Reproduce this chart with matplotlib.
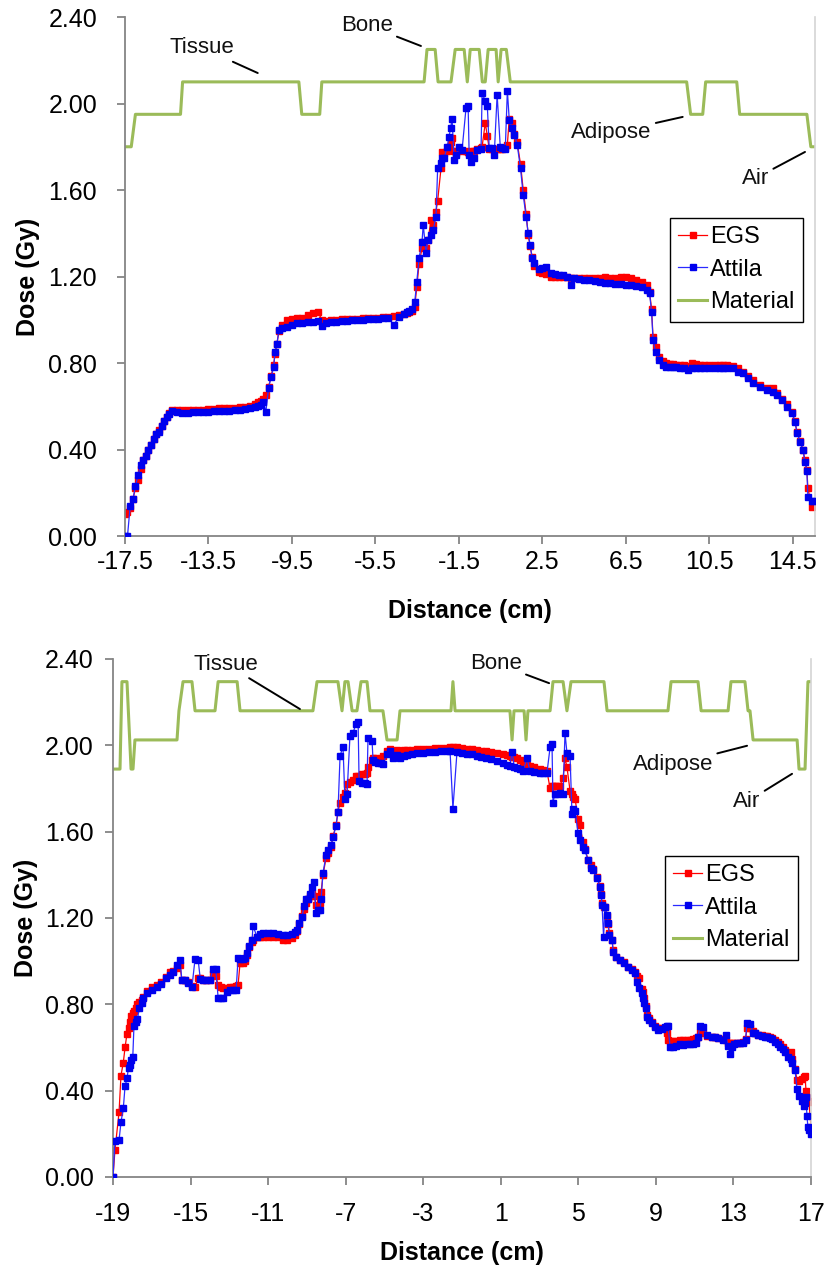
import matplotlib
matplotlib.use("Agg")
import matplotlib.pyplot as plt

plt.rcParams["font.family"] = ["Liberation Sans", "DejaVu Sans"]
plt.rcParams["axes.unicode_minus"] = False

# ------------------------------------------------------------
# Data : top panel (distance in cm, dose in Gy)
# ------------------------------------------------------------

top_x = [
    -17.50, -17.38, -17.25, -17.12, -17.00, -16.88, -16.75, -16.62, -16.50, -16.38,
    -16.25, -16.12, -16.00, -15.88, -15.75, -15.62, -15.50, -15.38, -15.25,
    -15.00, -14.75, -14.50, -14.25, -14.00, -13.75, -13.50, -13.25, -13.00, -12.75,
    -12.50, -12.25, -12.00, -11.75, -11.50, -11.25,
    -11.12, -11.00, -10.88, -10.75, -10.62, -10.50, -10.38, -10.31, -10.22, -10.12, -10.00,
    -9.75, -9.50, -9.25, -9.00, -8.75, -8.50, -8.25, -8.07, -7.88, -7.62, -7.38, -7.12,
    -6.88, -6.62, -6.38, -6.12, -5.88, -5.62, -5.38, -5.12, -4.88, -4.62, -4.38, -4.12,
    -4.00, -3.88, -3.75, -3.62,
    -3.52, -3.41, -3.27, -3.21, -3.08, -2.98, -2.84, -2.74, -2.60, -2.52, -2.36, -2.30,
    -2.21, -2.06, -1.98, -1.90, -1.83, -1.73, -1.64, -1.49, -1.35, -1.16, -1.06, -1.01,
    -0.91, -0.77, -0.62, -0.44, -0.39, -0.24, -0.14, -0.05, 0.10, 0.19, 0.33, 0.48,
    0.58, 0.72, 0.82, 0.91, 1.05, 1.15, 1.29, 1.45, 1.58, 1.72, 1.82, 1.91, 2.01, 2.11,
    2.35, 2.50, 2.69, 2.93, 3.12, 3.31, 3.50, 3.70, 3.89, 4.00, 4.25, 4.50, 4.75, 5.00,
    5.25, 5.50, 5.75, 6.00, 6.25, 6.50, 6.75, 7.00, 7.25, 7.50, 7.63,
    7.73, 7.80, 7.93, 8.10, 8.26, 8.44, 8.60, 8.75, 8.92, 9.10, 9.30, 9.46, 9.65, 9.85,
    10.03, 10.25, 10.50, 10.75, 11.00, 11.14, 11.35, 11.62,
    11.86, 12.10, 12.34, 12.58, 12.92, 13.25, 13.54, 13.73, 13.97, 14.21, 14.45, 14.60,
    14.70, 14.84, 14.98, 15.08, 15.17, 15.22, 15.41, 15.46,
]

top_egs = [
    0.10, 0.11, 0.13, 0.17, 0.22, 0.26, 0.31, 0.35, 0.37, 0.40,
    0.42, 0.45, 0.47, 0.49, 0.51, 0.53, 0.55, 0.57, 0.585,
    0.585, 0.585, 0.582, 0.585, 0.583, 0.585, 0.587, 0.588, 0.590, 0.590,
    0.592, 0.594, 0.596, 0.598, 0.600, 0.610,
    0.620, 0.625, 0.635, 0.650, 0.690, 0.740, 0.790, 0.840, 0.890, 0.950, 0.975,
    1.000, 1.005, 1.010, 1.010, 1.020, 1.030, 1.035, 1.000, 0.995, 0.998, 1.000, 1.005,
    1.002, 1.005, 1.004, 1.006, 1.007, 1.008, 1.010, 1.012, 1.015, 1.018, 1.020, 1.025,
    1.030, 1.035, 1.040, 1.060,
    1.150, 1.260, 1.330, 1.360, 1.330, 1.370, 1.460, 1.440, 1.500, 1.550, 1.700, 1.775,
    1.770, 1.780, 1.800, 1.820, 1.840, 1.780, 1.770, 1.790, 1.780, 1.780, 1.775, 1.770,
    1.780, 1.780, 1.790, 1.795, 1.800, 1.910, 1.850, 1.790, 1.790, 1.790, 1.790, 1.790,
    1.790, 1.795, 1.810, 1.930, 1.910, 1.860, 1.820, 1.720, 1.600, 1.490, 1.390, 1.340,
    1.290, 1.250,
    1.220, 1.215, 1.210, 1.200, 1.200, 1.200, 1.200, 1.198, 1.195, 1.195, 1.195, 1.195,
    1.193, 1.195, 1.195, 1.198, 1.195, 1.195, 1.196, 1.198, 1.195, 1.185, 1.175, 1.160,
    1.130,
    1.050, 0.920, 0.874, 0.830, 0.810, 0.800, 0.795, 0.795, 0.792, 0.790, 0.790, 0.788,
    0.800, 0.795, 0.790, 0.790, 0.792, 0.790, 0.792, 0.791, 0.790, 0.785,
    0.775, 0.760, 0.740, 0.720, 0.700, 0.685, 0.684, 0.660, 0.635, 0.610, 0.575, 0.530,
    0.480, 0.440, 0.400, 0.350, 0.305, 0.220, 0.134, 0.150,
]

top_attila = [
    0.00, 0.00, 0.14, 0.17, 0.23, 0.28, 0.33, 0.35, 0.37, 0.40,
    0.42, 0.45, 0.47, 0.48, 0.51, 0.53, 0.55, 0.565, 0.58,
    0.572, 0.570, 0.570, 0.572, 0.572, 0.573, 0.575, 0.576, 0.578, 0.580,
    0.580, 0.582, 0.584, 0.586, 0.590, 0.595,
    0.600, 0.605, 0.620, 0.575, 0.685, 0.735, 0.780, 0.850, 0.890, 0.952, 0.960,
    0.965, 0.975, 0.985, 0.985, 0.990, 0.990, 0.992, 0.970, 0.985, 0.988, 0.990, 0.992,
    0.995, 0.997, 0.998, 1.000, 1.002, 1.004, 1.005, 1.008, 1.010, 0.975, 1.015, 1.025,
    1.035, 1.040, 1.050, 1.080,
    1.175, 1.285, 1.360, 1.440, 1.310, 1.370, 1.390, 1.415, 1.475, 1.700, 1.725, 1.750,
    1.750, 1.800, 1.845, 1.885, 1.930, 1.740, 1.760, 1.800, 1.785, 1.980, 1.990, 1.760,
    1.730, 1.750, 1.785, 1.790, 2.050, 2.010, 1.990, 1.795, 1.795, 1.760, 2.040, 1.800,
    1.795, 1.790, 2.060, 1.925, 1.885, 1.855, 1.810, 1.700, 1.577, 1.475, 1.400, 1.345,
    1.285, 1.262,
    1.235, 1.240, 1.245, 1.215, 1.210, 1.207, 1.205, 1.200, 1.160, 1.193, 1.190, 1.186,
    1.183, 1.180, 1.175, 1.172, 1.170, 1.166, 1.165, 1.163, 1.160, 1.155, 1.150, 1.138,
    1.124,
    1.036, 0.906, 0.850, 0.814, 0.791, 0.781, 0.780, 0.781, 0.780, 0.779, 0.776, 0.768,
    0.778, 0.777, 0.777, 0.777, 0.777, 0.778, 0.777, 0.778, 0.777, 0.777,
    0.758, 0.754, 0.730, 0.707, 0.689, 0.675, 0.665, 0.652, 0.629, 0.597, 0.569, 0.527,
    0.476, 0.435, 0.398, 0.342, 0.300, 0.180, 0.162, 0.162,
]

# material profile (air 1.80, adipose 1.95, tissue 2.10, bone 2.25)
top_mat_x = [
    -17.50, -17.20, -17.00, -14.84, -14.74, -9.17, -9.03, -8.17, -8.07, -3.17, -3.03,
    -2.64, -2.50, -1.88, -1.68, -1.25, -1.10, -0.96, -0.53, -0.38, -0.24, -0.10, 0.28,
    0.38, 0.52, 0.77, 0.96, 9.41, 9.60, 10.18, 10.32, 11.81, 11.95, 15.17, 15.36, 15.56,
]
top_mat_y = [
    1.80, 1.80, 1.95, 1.95, 2.10, 2.10, 1.95, 1.95, 2.10, 2.10, 2.25,
    2.25, 2.10, 2.10, 2.25, 2.25, 2.10, 2.25, 2.25, 2.10, 2.10, 2.25, 2.25,
    2.10, 2.25, 2.25, 2.10, 2.10, 1.95, 1.95, 2.10, 2.10, 1.95, 1.95, 1.80, 1.80,
]

top_ticks = [-17.5, -13.5, -9.5, -5.5, -1.5, 2.5, 6.5, 10.5, 14.5]
top_tick_labels = ["-17.5", "-13.5", "-9.5", "-5.5", "-1.5", "2.5", "6.5", "10.5", "14.5"]

# (label, text position, pointed position)
top_notes = [
    ("Tissue", (-13.80, 2.257), (-11.14, 2.141)),
    ("Bone", (-5.91, 2.363), (-3.32, 2.266)),
    ("Adipose", (5.81, 1.864), (9.22, 1.938)),
    ("Air", (12.72, 1.655), (15.08, 1.776)),
]

# ------------------------------------------------------------
# Data : bottom panel
# ------------------------------------------------------------

bot_x = [
    -19.00, -18.90, -18.69, -18.59, -18.47, -18.38, -18.28, -18.20, -18.12, -18.05,
    -17.98, -17.92, -17.81, -17.74, -17.64, -17.52, -17.45, -17.25, -17.00, -16.75,
    -16.50, -16.25, -16.07, -15.90, -15.70, -15.55,
    -15.45, -15.29, -15.13, -14.93, -14.77, -14.61, -14.50, -14.36, -14.18, -14.00,
    -13.84, -13.70, -13.58, -13.45, -13.33, -13.12, -12.95, -12.81, -12.65, -12.55,
    -12.45, -12.30, -12.19, -12.09, -12.00, -11.83, -11.78, -11.57, -11.40, -11.26,
    -11.00, -10.75, -10.50, -10.23, -10.03, -9.77, -9.62,
    -9.51, -9.41, -9.25, -9.15, -9.05, -8.94, -8.84, -8.74, -8.63, -8.53, -8.43, -8.32,
    -8.27, -8.17, -8.01, -7.90, -7.76, -7.65, -7.50, -7.40, -7.29, -7.14, -7.04, -6.93,
    -6.78, -6.62, -6.47, -6.36, -6.31, -6.16, -6.00, -5.90, -5.85, -5.64, -5.59, -5.49,
    -5.33, -5.20, -5.08, -4.87, -4.71, -4.56, -4.35, -4.20,
    -4.00, -3.84, -3.60, -3.30, -3.00, -2.70, -2.40, -2.10, -1.80, -1.62, -1.47, -1.26,
    -1.00, -0.75, -0.50, -0.25, 0.00, 0.25, 0.50, 0.80, 1.10, 1.30, 1.47, 1.58, 1.70,
    1.84, 2.00, 2.15, 2.35, 2.50, 2.70, 3.02, 3.20, 3.38,
    3.54, 3.64, 3.69, 3.79, 3.92, 4.05, 4.21, 4.31, 4.41, 4.57, 4.67, 4.72, 4.83, 4.98,
    5.08, 5.24, 5.34, 5.50, 5.65, 5.75, 5.96, 6.12, 6.17, 6.22, 6.30, 6.37, 6.48, 6.53,
    6.60, 6.74, 6.79, 6.94, 7.15, 7.35, 7.56, 7.77, 7.92, 8.02, 8.13, 8.28, 8.34, 8.39,
    8.49, 8.54, 8.64, 8.80, 8.95, 9.11, 9.31, 9.47, 9.57, 9.62,
    9.73, 9.88, 10.05, 10.24, 10.42, 10.60, 10.76, 10.91, 11.05, 11.17, 11.27, 11.43,
    11.63, 11.89, 12.05, 12.20, 12.46, 12.60, 12.70, 12.82, 12.92, 13.05, 13.18, 13.33,
    13.49, 13.62, 13.70, 13.85, 14.00, 14.13, 14.26, 14.45, 14.62, 14.75, 14.88, 15.00,
    15.14, 15.27, 15.40, 15.53, 15.66, 15.81, 15.97, 16.02, 16.17, 16.28, 16.38, 16.53,
    16.64, 16.69, 16.74, 16.79, 16.84, 16.89, 17.00,
]

bot_egs = [
    0.000, 0.125, 0.300, 0.470, 0.530, 0.600, 0.664, 0.690, 0.720, 0.747,
    0.760, 0.770, 0.784, 0.800, 0.810, 0.820, 0.835, 0.860, 0.880, 0.890,
    0.905, 0.925, 0.950, 0.955, 0.970, 0.980,
    0.915, 0.915, 0.905, 0.885, 0.880, 0.920, 0.920, 0.915, 0.915, 0.915,
    0.940, 0.932, 0.890, 0.880, 0.877, 0.875, 0.880, 0.880, 0.885, 0.890,
    0.990, 0.992, 1.000, 1.030, 1.065, 1.090, 1.100, 1.110, 1.110, 1.110,
    1.110, 1.112, 1.110, 1.100, 1.098, 1.107, 1.120,
    1.140, 1.170, 1.210, 1.240, 1.270, 1.290, 1.300, 1.315, 1.300, 1.260, 1.250, 1.270,
    1.320, 1.400, 1.480, 1.500, 1.530, 1.580, 1.630, 1.690, 1.735, 1.760, 1.780, 1.822,
    1.830, 1.840, 1.860, 1.860, 1.855, 1.865, 1.868, 1.870, 1.900, 1.930, 1.940, 1.940,
    1.935, 1.940, 1.950, 1.975, 1.984, 1.970, 1.980, 1.975,
    1.978, 1.980, 1.980, 1.982, 1.985, 1.985, 1.987, 1.988, 1.988, 1.990, 1.990, 1.990,
    1.988, 1.985, 1.982, 1.978, 1.975, 1.972, 1.968, 1.965, 1.960, 1.955, 1.950, 1.948,
    1.945, 1.940, 1.930, 1.920, 1.910, 1.905, 1.900, 1.890, 1.885, 1.880,
    1.800, 1.810, 1.813, 1.813, 1.813, 1.813, 1.850, 1.940, 1.900, 1.790, 1.775, 1.760,
    1.753, 1.660, 1.629, 1.550, 1.520, 1.470, 1.444, 1.425, 1.390, 1.350, 1.310, 1.270,
    1.250, 1.250, 1.210, 1.170, 1.130, 1.100, 1.050, 1.020, 1.005, 0.995, 0.975, 0.965,
    0.950, 0.930, 0.920, 0.870, 0.858, 0.830, 0.790, 0.750, 0.735, 0.720, 0.700, 0.690,
    0.690, 0.690, 0.669, 0.637,
    0.630, 0.630, 0.632, 0.633, 0.633, 0.635, 0.637, 0.640, 0.645, 0.650, 0.670, 0.665,
    0.655, 0.650, 0.648, 0.645, 0.640, 0.635, 0.620, 0.620, 0.620, 0.623, 0.623, 0.623,
    0.625, 0.640, 0.690, 0.690, 0.675, 0.665, 0.660, 0.658, 0.655, 0.652, 0.650, 0.645,
    0.635, 0.625, 0.615, 0.600, 0.590, 0.575, 0.577, 0.545, 0.500, 0.450, 0.443, 0.455,
    0.465, 0.466, 0.400, 0.370, 0.350, 0.346, 0.230,
]

bot_attila = [
    0.000, 0.166, 0.170, 0.254, 0.318, 0.420, 0.457, 0.507, 0.520, 0.540,
    0.558, 0.700, 0.720, 0.733, 0.784, 0.806, 0.830, 0.853, 0.867, 0.880,
    0.895, 0.920, 0.935, 0.950, 0.983, 1.006,
    0.913, 0.913, 0.900, 0.880, 1.010, 1.006, 0.918, 0.913, 0.913, 0.913,
    0.964, 0.964, 0.830, 0.830, 0.830, 0.858, 0.865, 0.867, 0.867, 1.015,
    1.012, 1.010, 1.015, 1.038, 1.070, 1.098, 1.163, 1.112, 1.125, 1.130,
    1.130, 1.130, 1.125, 1.120, 1.120, 1.128, 1.135,
    1.144, 1.176, 1.204, 1.255, 1.287, 1.287, 1.310, 1.343, 1.366, 1.223, 1.236, 1.236,
    1.287, 1.410, 1.490, 1.513, 1.536, 1.573, 1.628, 1.689, 1.952, 1.993, 1.753, 1.776,
    2.044, 2.058, 2.100, 2.108, 1.836, 1.827, 1.825, 1.822, 2.035, 2.020, 1.930, 1.925,
    1.920, 1.918, 1.915, 1.960, 1.975, 1.942, 1.955, 1.942,
    1.950, 1.955, 1.960, 1.963, 1.965, 1.968, 1.970, 1.972, 1.973, 1.975, 1.707, 1.970,
    1.965, 1.960, 1.958, 1.952, 1.948, 1.942, 1.935, 1.928, 1.920, 1.910, 1.905, 1.970,
    1.900, 1.896, 1.890, 1.882, 1.940, 1.882, 1.878, 1.873, 1.873, 1.873,
    1.990, 2.005, 1.735, 1.776, 1.776, 1.780, 1.776, 2.058, 1.965, 1.950, 1.684, 1.707,
    1.698, 1.596, 1.560, 1.527, 1.513, 1.467, 1.430, 1.421, 1.384, 1.343, 1.306, 1.260,
    1.112, 1.250, 1.213, 1.176, 1.120, 1.098, 1.043, 1.020, 1.006, 0.992, 0.973, 0.960,
    0.946, 0.904, 0.877, 0.853, 0.830, 0.807, 0.784, 0.743, 0.729, 0.715, 0.697, 0.683,
    0.687, 0.697, 0.700, 0.701,
    0.604, 0.600, 0.608, 0.614, 0.613, 0.614, 0.614, 0.614, 0.620, 0.650, 0.701, 0.697,
    0.660, 0.650, 0.648, 0.646, 0.637, 0.660, 0.609, 0.572, 0.600, 0.615, 0.623, 0.623,
    0.623, 0.637, 0.715, 0.710, 0.669, 0.665, 0.660, 0.655, 0.650, 0.648, 0.646, 0.638,
    0.627, 0.617, 0.604, 0.592, 0.581, 0.558, 0.545, 0.530, 0.498, 0.406, 0.374, 0.351,
    0.328, 0.345, 0.369, 0.281, 0.231, 0.220, 0.198,
]

# material profile (air 1.89, adipose 2.025, tissue 2.16, bone 2.295)
bot_mat_x = [
    -19.00, -18.64, -18.54, -18.28, -18.07, -17.97, -17.87, -15.70, -15.60, -15.39,
    -14.93, -14.77, -13.74, -13.58, -12.60, -12.45, -8.69, -8.48, -7.40, -7.19,
    -7.04, -6.88, -6.67, -6.42, -6.21, -5.90, -5.75, -5.08, -4.87, -4.35,
    -4.20, -1.57, -1.47, -1.36, 1.47, 1.58, 1.68, 2.20, 2.30, 2.40,
    3.54, 3.69, 4.21, 4.41, 4.62, 6.32, 6.48, 9.62, 9.78, 11.17,
    11.33, 12.72, 12.87, 13.59, 13.75, 13.85, 14.01, 16.28, 16.38, 16.69,
    16.84, 17.00,
]
bot_mat_y = [
    1.89, 1.89, 2.295, 2.295, 1.89, 1.89, 2.025, 2.025, 2.16, 2.295,
    2.295, 2.16, 2.16, 2.295, 2.295, 2.16, 2.16, 2.295, 2.295, 2.16,
    2.295, 2.295, 2.16, 2.16, 2.295, 2.295, 2.16, 2.16, 2.025, 2.025,
    2.16, 2.16, 2.295, 2.16, 2.16, 2.025, 2.16, 2.16, 2.025, 2.16,
    2.16, 2.295, 2.295, 2.16, 2.295, 2.295, 2.16, 2.16, 2.295, 2.295,
    2.16, 2.16, 2.295, 2.295, 2.16, 2.16, 2.025, 2.025, 1.89, 1.89,
    2.295, 2.295,
]

bot_ticks = [-19, -15, -11, -7, -3, 1, 5, 9, 13, 17]
bot_tick_labels = ["-19", "-15", "-11", "-7", "-3", "1", "5", "9", "13", "17"]

bot_notes = [
    ("Tissue", (-13.17, 2.376), (-9.36, 2.168)),
    ("Bone", (0.75, 2.380), (3.49, 2.288)),
    ("Adipose", (9.88, 1.910), (13.70, 1.998)),
    ("Air", (13.70, 1.739), (16.02, 1.868)),
]

dose_ticks = [0.0, 0.4, 0.8, 1.2, 1.6, 2.0, 2.4]
dose_tick_labels = ["0.00", "0.40", "0.80", "1.20", "1.60", "2.00", "2.40"]

# ------------------------------------------------------------
# Drawing
# ------------------------------------------------------------

AXIS_GRAY = "#858585"


def draw_panel(ax, x, egs, attila, mat_x, mat_y, ticks, tick_labels, xlim,
               notes, legend_anchor, xpad, ypad, xlabelpad, ylabelpad):
    mat_line, = ax.plot(mat_x, mat_y, color="#9bbb59", lw=2.2, zorder=1)
    egs_line, = ax.plot(x, egs, color="#ff0000", lw=0.9, marker="s",
                        markersize=3.7, zorder=2)
    att_line, = ax.plot(x, attila, color="#2a2aff", lw=0.9, marker="s",
                        markersize=4.1, markerfacecolor="#0000ee",
                        markeredgecolor="#0000ee", zorder=3)

    for label, text_xy, point_xy in notes:
        ax.annotate(label, xy=point_xy, xytext=text_xy, ha="center", va="center",
                    fontsize=16, color="#111111",
                    arrowprops=dict(arrowstyle="-", color="black", lw=1.4,
                                    shrinkA=1, shrinkB=0))

    ax.set_xlim(xlim)
    ax.set_ylim(0, 2.4)
    ax.set_xticks(ticks)
    ax.set_xticklabels(tick_labels)
    ax.set_yticks(dose_ticks)
    ax.set_yticklabels(dose_tick_labels)

    ax.spines["top"].set_visible(False)
    ax.spines["right"].set_color("#d4d4d4")
    ax.spines["right"].set_linewidth(1.2)
    for side in ["left", "bottom"]:
        ax.spines[side].set_color(AXIS_GRAY)
        ax.spines[side].set_linewidth(1.3)

    ax.tick_params(axis="both", direction="out", length=6, width=1.3,
                   color=AXIS_GRAY, labelsize=18, labelcolor="black")
    ax.tick_params(axis="x", pad=xpad)
    ax.tick_params(axis="y", pad=ypad)

    ax.set_xlabel("Distance (cm)", fontsize=18, fontweight="bold", labelpad=xlabelpad)
    ax.set_ylabel("Dose (Gy)", fontsize=18, fontweight="bold", labelpad=ylabelpad)

    leg = ax.legend([egs_line, att_line, mat_line], ["EGS", "Attila", "Material"],
                    loc="upper left", bbox_to_anchor=legend_anchor,
                    fontsize=17, frameon=True, fancybox=False, framealpha=1,
                    edgecolor="black", handlelength=1.2, handletextpad=0.15,
                    labelspacing=0.45, borderpad=0.35, borderaxespad=0)
    leg.get_frame().set_linewidth(1.0)


fig = plt.figure(figsize=(8.25, 12.69), dpi=100)

ax_top = fig.add_axes([0.1515, 0.5776, 0.8364, 0.4090])
draw_panel(ax_top, top_x, top_egs, top_attila, top_mat_x, top_mat_y,
           top_ticks, top_tick_labels, (-17.5, 15.56), top_notes,
           (0.790, 0.613), xpad=4, ypad=14, xlabelpad=18, ylabelpad=6)

ax_bot = fig.add_axes([0.1370, 0.0725, 0.8461, 0.4082])
draw_panel(ax_bot, bot_x, bot_egs, bot_attila, bot_mat_x, bot_mat_y,
           bot_ticks, bot_tick_labels, (-19, 17), bot_notes,
           (0.791, 0.620), xpad=12, ypad=8, xlabelpad=11, ylabelpad=5)

fig.savefig("out.png", dpi=100, facecolor="white")
